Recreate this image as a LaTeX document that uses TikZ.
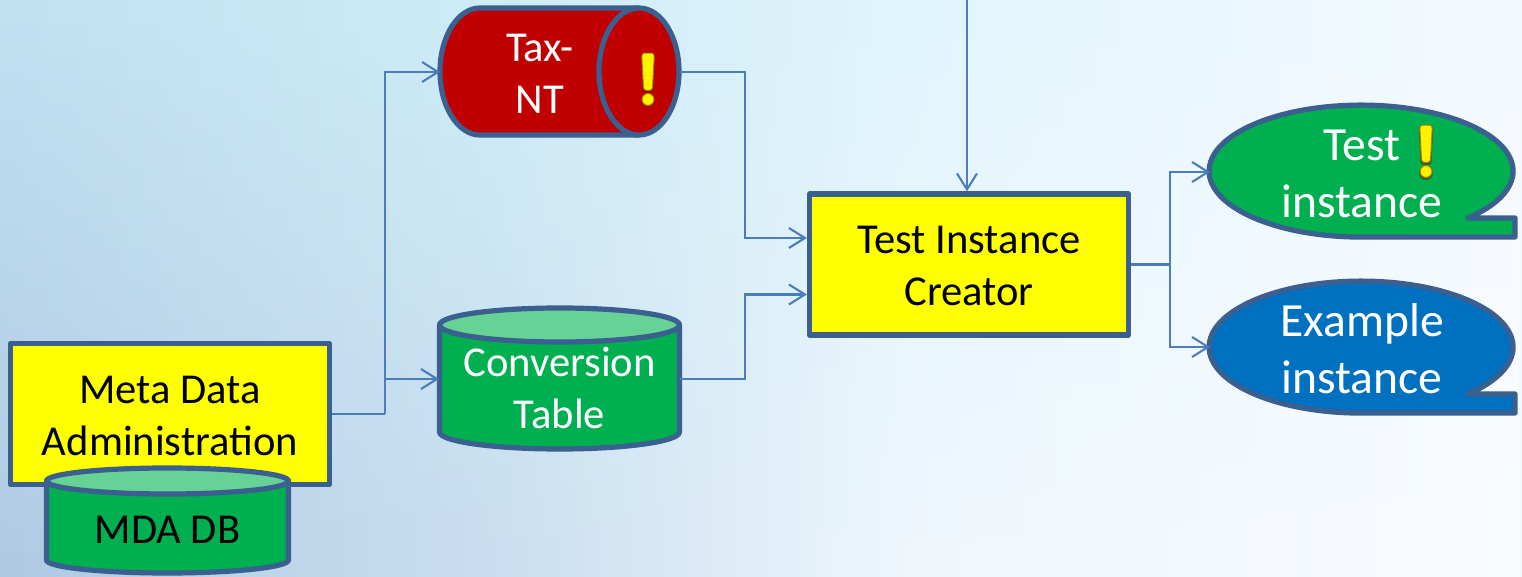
\documentclass[tikz,border=0pt]{standalone}
\usepackage{fontspec}
\setmainfont{Carlito}
\usetikzlibrary{arrows.meta,fadings,calc}
\definecolor{edgeblue}{HTML}{3B5F8F}
\definecolor{linkblue}{HTML}{4A7EBB}
\definecolor{boxyellow}{HTML}{FFFF00}
\definecolor{dbgreen}{HTML}{00B050}
\definecolor{dbtop}{HTML}{66D296}
\definecolor{taxred}{HTML}{C00000}
\definecolor{exblue}{HTML}{0070C0}
\definecolor{bangedge}{HTML}{A08000}
\pgfdeclarehorizontalshading{bgtoprow}{100bp}{
  rgb(0bp)=(0.76,0.88,0.95);
  rgb(25bp)=(0.76,0.88,0.95);
  rgb(41.5bp)=(0.81,0.93,0.97);
  rgb(55bp)=(0.88,0.96,0.99);
  rgb(75bp)=(0.96,0.98,1);
  rgb(100bp)=(0.96,0.98,1)}
\pgfdeclarehorizontalshading{bgbottomrow}{100bp}{
  rgb(0bp)=(0.69,0.79,0.89);
  rgb(25bp)=(0.69,0.79,0.89);
  rgb(41.5bp)=(0.79,0.87,0.94);
  rgb(55bp)=(0.94,0.97,0.99);
  rgb(75bp)=(0.98,0.99,1);
  rgb(100bp)=(0.98,0.99,1)}
\tikzfading[name=fadefromtop,bottom color=transparent!0,top color=transparent!100]
\tikzset{
  x=1pt,y=1pt,
  shapeedge/.style={draw=edgeblue,line width=5.2pt,line join=round},
  boxnode/.style={shapeedge,fill=boxyellow,minimum width=319pt,minimum height=141pt,inner sep=0pt},
  label/.style={align=center,inner sep=0pt,font=\fontsize{42.6}{52}\selectfont},
  biglabel/.style={align=center,inner sep=0pt,text=white,font=\fontsize{47.6}{57.5}\selectfont},
  link/.style={draw=linkblue,line width=2.1pt},
  arrowlink/.style={link,-{Straight Barb[length=16pt,width=20pt,line width=2.1pt]}}
}
\newcommand{\bangmark}[1]{%
  \begin{scope}[shift={#1}]
    \begin{scope}[yshift=-1.6pt]
      \fill[black!50!red,opacity=.45,rounded corners=3pt]
        (-7.4,27.4) -- (7.4,27.4) -- (5.4,-12) -- (-5.4,-12) -- cycle;
      \fill[black!50!red,opacity=.45] (0,-20) circle[radius=7];
    \end{scope}
    \draw[draw=bangedge,line width=1pt,fill=yellow,rounded corners=3pt]
      (-6.4,26.4) -- (6.4,26.4) -- (4.4,-11) -- (-4.4,-11) -- cycle;
    \draw[draw=bangedge,line width=1pt,fill=yellow] (0,-20) circle[radius=6];
  \end{scope}}
\begin{document}
\begin{tikzpicture}
\useasboundingbox (0,0) rectangle (1522,576);
% background
\path[shading=bgtoprow] (0,0) rectangle (1522,576);
\path[shading=bgbottomrow,path fading=fadefromtop] (0,0) rectangle (1522,576);

% coordinates for connector ends
\coordinate (topin) at (967,576);
\coordinate (taxw) at (440,504);
\coordinate (taxe) at (680,504);
\coordinate (convw) at (439,197);
\coordinate (conve) at (680,197);
\coordinate (testw) at (1210,404);
\coordinate (examplew) at (1210,229);

% boxes
\node[boxnode] (meta) at (170,162) {};
\node[label] (metatext) at (170,160.5) {Meta Data\\Administration};
\node[boxnode] (creator) at (969,311.5) {};
\node[label] (creatortext) at (969,310) {Test Instance\\Creator};
\coordinate (creatorinA) at ($(creator.west)+(0,26.5)$);
\coordinate (creatorinB) at ($(creator.west)+(0,-30)$);

% MDA DB cylinder
\path[shapeedge,fill=dbgreen] (46.5,95) -- (46.5,16)
   arc[start angle=180,end angle=360,x radius=121pt,y radius=13pt] -- (288.5,95) -- cycle;
\path[shapeedge,fill=dbtop] (167.5,95) ellipse[x radius=121pt,y radius=13pt];
\node[label] (mdadb) at (167.5,46) {MDA DB};

% Conversion table cylinder
\path[shapeedge,fill=dbgreen] (439.5,251) -- (439.5,144)
   arc[start angle=180,end angle=360,x radius=120pt,y radius=17pt] -- (679.5,251) -- cycle;
\path[shapeedge,fill=dbtop] (559.5,251) ellipse[x radius=120pt,y radius=17pt];
\node[label,text=white] (convtext) at (559.5,187.5) {Conversion\\Table};

% Tax-NT cylinder
\path[shapeedge,fill=taxred] (638,568)
   -- (480,568) arc[start angle=90,end angle=270,x radius=40pt,y radius=63.5pt]
   -- (638,441) -- cycle;
\path[shapeedge,fill=taxred] (639,504.5) ellipse[x radius=40pt,y radius=63.5pt];
\node[label,text=white] (taxtext) at (540,502) {Tax-\\NT};
\bangmark{(648,496.5)}

% callouts
\path[shapeedge,fill=dbgreen] (1468,358)
   arc[start angle=-45.3,end angle=270,x radius=152pt,y radius=66pt]
   -- (1515,339) -- (1515,358) -- cycle;
\node[biglabel] (testtext) at (1362,402) {Test\\instance};
\bangmark{(1426,424.5)}
\path[shapeedge,fill=exblue] (1468,182)
   arc[start angle=-45.3,end angle=270,x radius=152pt,y radius=66pt]
   -- (1515,163) -- (1515,182) -- cycle;
\node[biglabel] (exampletext) at (1362,227.5) {Example\\instance};

% connectors
\draw[link] (meta.east) -- ++(53,0) coordinate (split);
\draw[arrowlink] (split) |- (taxw);
\draw[arrowlink] (split |- convw) -- (convw);
\draw[arrowlink] (taxe) -- (745,504) |- (creatorinA);
\draw[arrowlink] (conve) -- (745,197) |- (creatorinB);
\draw[arrowlink] (topin) -- (topin |- creator.north);
\draw[link] (creator.east) -- ++(39,0) coordinate (fork);
\draw[arrowlink] (fork) |- (testw);
\draw[arrowlink] (fork) |- (examplew);
\end{tikzpicture}
\end{document}
